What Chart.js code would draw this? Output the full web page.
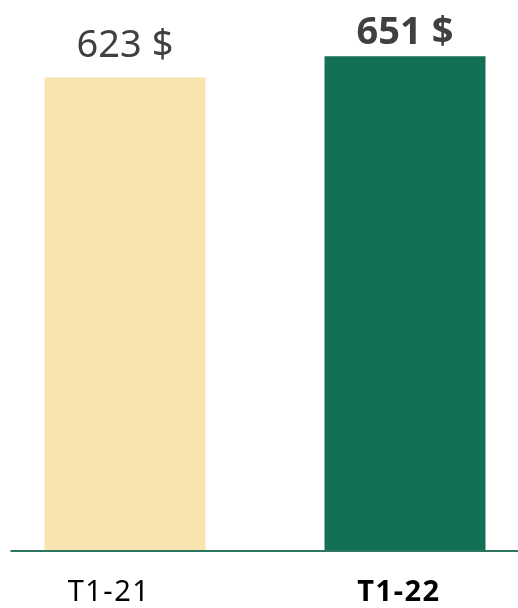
<!DOCTYPE html>
<html>
<head>
<meta charset="utf-8">
<script src="https://cdn.jsdelivr.net/npm/chart.js@4/dist/chart.umd.min.js"></script>
<style>
html,body{margin:0;padding:0;background:#fff;overflow:hidden;}
#wrap{position:relative;width:518px;height:608px;overflow:hidden;}
#c{position:absolute;left:-15.5px;top:0;}
</style>
</head>
<body>
<div id="wrap"><canvas id="c" width="560" height="608"></canvas></div>
<script>
const categories = ["T1-21", "T1-22"];
const values = [623, 651];
const valueLabels = ["623 $", "651 $"];
const barColors = ["#F8E3B1", "#136F55"];
const boldFlags = [false, true];

const labelPlugin = {
  id: 'labels',
  afterDatasetsDraw(chart) {
    const ctx = chart.ctx;
    const meta = chart.getDatasetMeta(0);
    const area = chart.chartArea;
    const y0 = chart.scales.y.getPixelForValue(0);
    ctx.save();
    ctx.strokeStyle = '#2E7560';
    ctx.lineWidth = 2;
    ctx.beginPath();
    ctx.moveTo(area.left + 25.5, y0 + 1);
    ctx.lineTo(chart.width, y0 + 1);
    ctx.stroke();
    const offs = [20, 12];
    const catShift = [-16, -6];
    meta.data.forEach((bar, i) => {
      ctx.fillStyle = '#404040';
      ctx.textAlign = 'center';
      ctx.textBaseline = 'alphabetic';
      ctx.font = (boldFlags[i] ? 'bold ' : '') + '38px "Noto Sans"';
      ctx.fillText(valueLabels[i], bar.x, bar.y - offs[i]);
      ctx.fillStyle = '#000';
      ctx.font = (boldFlags[i] ? 'bold ' : '') + '29px "Noto Sans"';
      ctx.letterSpacing = '1.5px';
      ctx.fillText(categories[i], bar.x + catShift[i], 601);
      ctx.letterSpacing = '0px';
    });
    ctx.restore();
  }
};

new Chart(document.getElementById('c'), {
  type: 'bar',
  data: {
    labels: categories,
    datasets: [{
      data: values,
      backgroundColor: barColors,
      borderWidth: 0,
      categoryPercentage: 1,
      barPercentage: 0.575
    }]
  },
  options: {
    responsive: false,
    animation: false,
    layout: { padding: { top: 19, bottom: 58, left: 0, right: 0 } },
    plugins: { legend: { display: false }, tooltip: { enabled: false } },
    scales: {
      x: { display: false },
      y: { display: false, min: 0, max: 700 }
    }
  },
  plugins: [labelPlugin]
});
</script>
</body>
</html>
